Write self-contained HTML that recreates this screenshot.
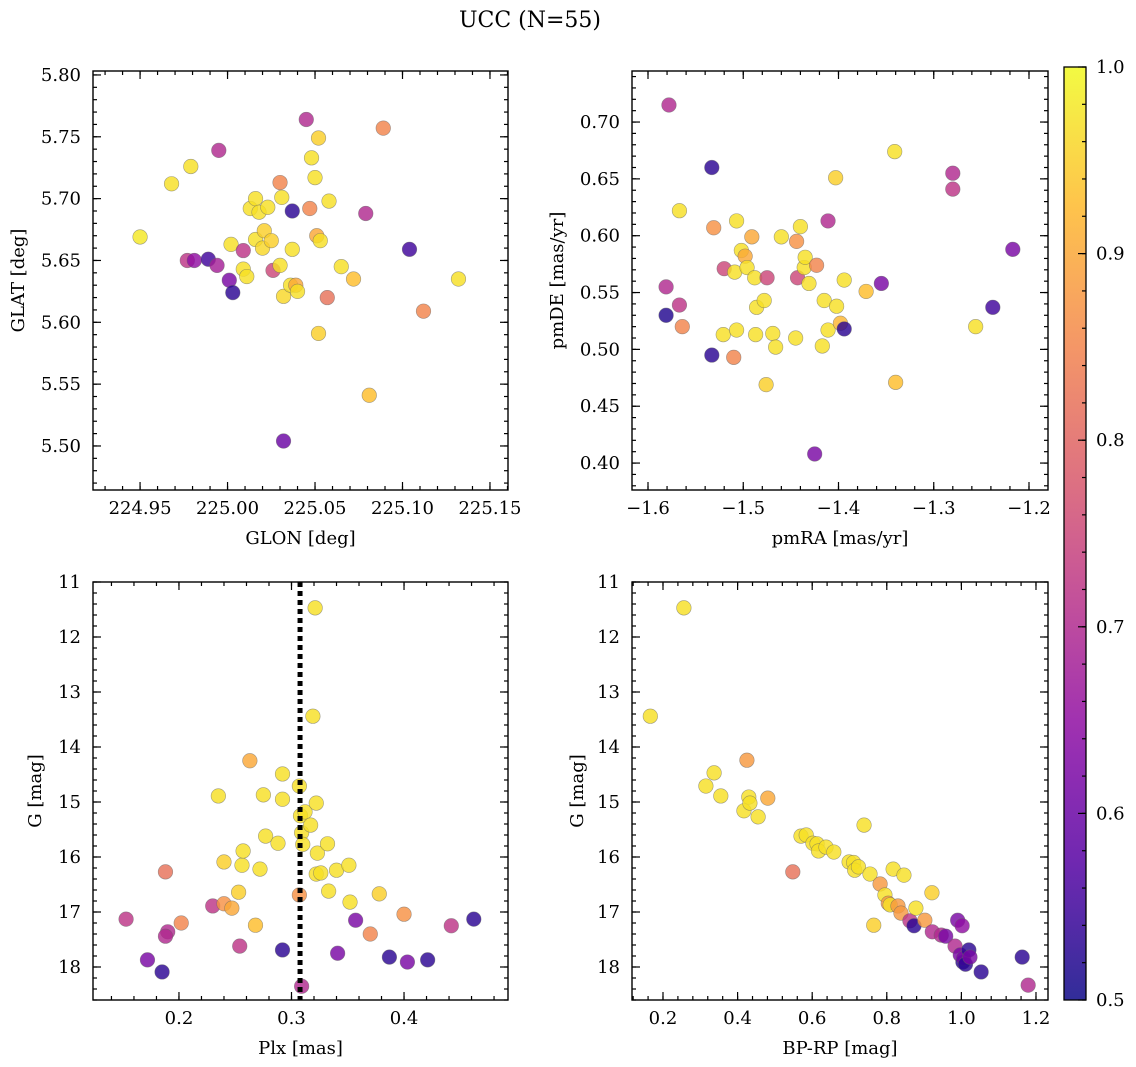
<!DOCTYPE html>
<html><head><meta charset="utf-8"><style>
body{margin:0;background:#fff;}
svg{display:block;font-family:"DejaVu Serif","Liberation Serif",serif;}
</style></head><body>
<svg id="fig" width="1136" height="1067" viewBox="0 0 1136 1067">
<text x="530" y="27" text-anchor="middle" font-size="22">UCC (N=55)</text>
</svg>
<script>
// ---- data ----
const glonVals=[224.950,224.968,224.979,224.995,224.977,224.981,224.989,224.994,225.001,225.003,225.002,225.009,225.009,225.011,225.013,225.016,225.016,225.018,225.020,225.021,225.023,225.025,225.026,225.030,225.030,225.031,225.032,225.032,225.037,225.036,225.037,225.039,225.040,225.045,225.047,225.048,225.050,225.051,225.052,225.052,225.053,225.058,225.057,225.065,225.072,225.079,225.081,225.089,225.104,225.112,225.132];
const glatVals=[5.669,5.712,5.726,5.739,5.650,5.650,5.651,5.646,5.634,5.624,5.663,5.658,5.643,5.637,5.692,5.700,5.667,5.689,5.660,5.674,5.693,5.666,5.642,5.646,5.713,5.701,5.621,5.504,5.690,5.630,5.659,5.630,5.625,5.764,5.692,5.733,5.717,5.670,5.749,5.591,5.666,5.698,5.620,5.645,5.635,5.688,5.541,5.757,5.659,5.609,5.635];
const probA=[.98,.97,.97,.7,.72,.65,.55,.68,.62,.53,.97,.72,.97,.97,.97,.97,.97,.97,.96,.95,.97,.95,.75,.97,.85,.97,.96,.6,.53,.97,.97,.9,.97,.7,.85,.97,.97,.9,.95,.95,.97,.97,.82,.97,.93,.7,.93,.85,.55,.85,.97];

const pmraVals=[-1.578,-1.581,-1.581,-1.567,-1.567,-1.564,-1.533,-1.533,-1.531,-1.520,-1.521,-1.507,-1.507,-1.509,-1.502,-1.498,-1.496,-1.510,-1.491,-1.488,-1.486,-1.478,-1.476,-1.475,-1.487,-1.469,-1.466,-1.460,-1.445,-1.444,-1.443,-1.440,-1.436,-1.435,-1.431,-1.425,-1.423,-1.417,-1.415,-1.411,-1.411,-1.403,-1.402,-1.398,-1.394,-1.394,-1.371,-1.355,-1.341,-1.340,-1.280,-1.280,-1.256,-1.238,-1.217];
const pmdeVals=[0.715,0.530,0.555,0.622,0.539,0.520,0.660,0.495,0.607,0.571,0.513,0.613,0.517,0.568,0.587,0.582,0.572,0.493,0.599,0.563,0.537,0.543,0.469,0.563,0.513,0.514,0.502,0.599,0.510,0.595,0.563,0.608,0.572,0.581,0.558,0.408,0.574,0.503,0.543,0.613,0.517,0.651,0.538,0.523,0.518,0.561,0.551,0.558,0.674,0.471,0.655,0.641,0.520,0.537,0.588];
const probB=[.7,.52,.7,.97,.72,.85,.53,.53,.87,.75,.97,.97,.97,.97,.97,.9,.97,.85,.9,.97,.97,.97,.95,.75,.97,.97,.97,.97,.97,.87,.75,.97,.97,.97,.97,.62,.85,.97,.97,.7,.97,.95,.97,.92,.53,.97,.93,.62,.97,.93,.7,.72,.97,.55,.62];

const plxVals=[0.153,0.172,0.185,0.188,0.190,0.188,0.202,0.230,0.235,0.240,0.240,0.247,0.253,0.256,0.254,0.257,0.263,0.268,0.272,0.275,0.277,0.288,0.292,0.292,0.292,0.307,0.307,0.308,0.309,0.309,0.310,0.312,0.317,0.319,0.321,0.322,0.323,0.322,0.326,0.332,0.333,0.341,0.340,0.351,0.352,0.357,0.370,0.378,0.387,0.400,0.403,0.421,0.442,0.462];
const gPlxVals=[17.13,17.87,18.09,16.27,17.36,17.44,17.20,16.89,14.89,16.09,16.85,16.93,16.64,16.15,17.62,15.89,14.25,17.24,16.22,14.87,15.62,15.75,14.95,14.49,17.69,16.69,14.71,15.25,15.56,18.35,15.77,15.18,15.42,13.44,11.47,15.02,15.93,16.31,16.29,15.76,16.62,17.75,16.24,16.15,16.82,17.15,17.40,16.67,17.82,17.04,17.91,17.87,17.25,17.13];
const probC=[.72,.62,.53,.82,.7,.7,.85,.72,.97,.95,.87,.9,.95,.97,.72,.97,.9,.93,.97,.97,.97,.97,.97,.97,.53,.87,.97,.97,.97,.7,.97,.97,.97,.97,.97,.97,.97,.97,.97,.97,.97,.62,.97,.97,.97,.62,.85,.95,.53,.87,.62,.53,.72,.53];
const plxMean=[0.3076];

const bprpVals=[0.166,0.256,0.315,0.337,0.355,0.417,0.425,0.430,0.433,0.455,0.481,0.548,0.570,0.584,0.602,0.613,0.617,0.637,0.658,0.699,0.711,0.714,0.724,0.739,0.755,0.765,0.782,0.795,0.804,0.809,0.817,0.830,0.838,0.846,0.862,0.873,0.878,0.902,0.921,0.922,0.946,0.958,0.983,0.990,1.002,0.997,1.004,1.006,1.011,1.020,1.023,1.053,1.163,1.179];
const gCmdVals=[13.44,11.47,14.71,14.47,14.89,15.16,14.24,14.91,15.02,15.27,14.93,16.27,15.62,15.60,15.75,15.76,15.89,15.82,15.91,16.09,16.10,16.24,16.18,15.42,16.31,17.24,16.49,16.69,16.84,16.87,16.22,16.89,17.02,16.33,17.16,17.25,16.93,17.15,16.65,17.36,17.42,17.44,17.62,17.15,17.25,17.78,17.91,17.84,17.95,17.69,17.82,18.09,17.82,18.33];
const probD=[.97,.97,.97,.97,.97,.97,.88,.97,.97,.97,.9,.82,.97,.97,.97,.97,.97,.97,.97,.97,.97,.97,.97,.97,.97,.95,.88,.97,.88,.97,.97,.88,.88,.97,.72,.53,.97,.88,.95,.7,.7,.62,.7,.62,.65,.62,.53,.62,.53,.53,.62,.53,.53,.7];

const cbTicks=[0.5,0.6,0.7,0.8,0.9,1.0];

// ---- helpers ----
const NS="http://www.w3.org/2000/svg";
const svg=document.getElementById('fig');
function mk(tag,attrs,parent){const e=document.createElementNS(NS,tag);for(const k in attrs)e.setAttribute(k,attrs[k]);(parent||svg).appendChild(e);return e;}
const stops=[[13,8,135],[84,2,163],[139,10,165],[185,50,137],[219,92,104],[244,136,73],[254,188,43],[240,249,33]];
function plasma(t){t=Math.max(0,Math.min(1,t));const s=t*(stops.length-1);const i=Math.min(stops.length-2,Math.floor(s));const f=s-i;const a=stops[i],b=stops[i+1];return `rgb(${Math.round(a[0]+(b[0]-a[0])*f)},${Math.round(a[1]+(b[1]-a[1])*f)},${Math.round(a[2]+(b[2]-a[2])*f)})`;}
function pcol(p){return plasma((p-0.5)/0.5);}
function fmt(v,d){let s=v.toFixed(d);if(v<-1e-9)s='\u2212'+s.slice(1);return s;}
const FS=18;

function panel(name,box,xlim,ylim,xmaj,xmin,ymaj,ymin,xd,yd,xlabel,ylabel,yinv,ytx){
  const [L,T,R,B]=box;
  const g=mk('g',{});
  
  
  const sx=v=>L+(v-xlim[0])/(xlim[1]-xlim[0])*(R-L);
  const sy=yinv?(v=>T+(v-ylim[0])/(ylim[1]-ylim[0])*(B-T)):(v=>B-(v-ylim[0])/(ylim[1]-ylim[0])*(B-T));
  const ticks=(lo,hi,st)=>{const a=[];for(let k=Math.ceil(lo/st-1e-6);k*st<=hi+1e-9;k++)a.push(k*st);return a;};
  const tg=mk('g',{stroke:'#000','stroke-width':1.2},g);
  
  
  ticks(xlim[0],xlim[1],xmin).forEach(v=>{const x=sx(v);mk('line',{x1:x,x2:x,y1:B,y2:B-4},tg);mk('line',{x1:x,x2:x,y1:T,y2:T+4},tg);});
  ticks(ylim[0],ylim[1],ymin).forEach(v=>{const y=sy(v);mk('line',{x1:L,x2:L+4,y1:y,y2:y},tg);mk('line',{x1:R,x2:R-4,y1:y,y2:y},tg);});
  ticks(xlim[0],xlim[1],xmaj).forEach(v=>{const x=sx(v);mk('line',{x1:x,x2:x,y1:B,y2:B-8},tg);mk('line',{x1:x,x2:x,y1:T,y2:T+8},tg);
    const t=mk('text',{x:x,y:B+24,'text-anchor':'middle','font-size':FS,stroke:'none'},g);t.textContent=fmt(v,xd);
    
    });
  ticks(ylim[0],ylim[1],ymaj).forEach(v=>{const y=sy(v);mk('line',{x1:L,x2:L+8,y1:y,y2:y},tg);mk('line',{x1:R,x2:R-8,y1:y,y2:y},tg);
    const t=mk('text',{x:L-12,y:y+6,'text-anchor':'end','font-size':FS},g);t.textContent=fmt(v,yd);
    
    });
  const xl=mk('text',{x:(L+R)/2,y:B+54,'text-anchor':'middle','font-size':FS},g);xl.textContent=xlabel;
  
  
  const yl=mk('text',{transform:`translate(${ytx},${(T+B)/2}) rotate(-90)`,'text-anchor':'middle','font-size':FS},g);yl.textContent=ylabel;
  
  
  const clip='clip-'+name;
  const cp=mk('clipPath',{id:clip},g);mk('rect',{x:L,y:T,width:R-L,height:B-T},cp);
  const pg=mk('g',{'clip-path':`url(#${clip})`},g);
  return {g,pg,sx,sy,frame:()=>{const f=mk('rect',{x:L,y:T,width:R-L,height:B-T,fill:'none',stroke:'#000','stroke-width':1.4},g);
    
    }};
}
function scatter(P,xs,ys,ps){
  xs.forEach((v,i)=>{const c=mk('circle',{cx:P.sx(v),cy:P.sy(ys[i]),r:7.3,fill:pcol(ps[i]),'fill-opacity':0.82,stroke:'#666','stroke-opacity':0.6,'stroke-width':0.6},P.pg);
    
    });
}

const A=panel('glon-glat-panel',[93,71,508,490],[224.9231,225.1603],[5.4644,5.8032],0.05,0.01,0.05,0.01,2,2,'GLON [deg]','GLAT [deg]',false,24);
scatter(A,glonVals,glatVals,probA);A.frame();
const Bp=panel('pm-panel',[632,71,1048,490],[-1.6168,-1.18005],[0.3763,0.7449],0.1,0.02,0.05,0.01,1,2,'pmRA [mas/yr]','pmDE [mas/yr]',false,563);
scatter(Bp,pmraVals,pmdeVals,probB);Bp.frame();
const C=panel('plx-g-panel',[93,582,508,1000],[0.1236,0.4924],[11,18.6],0.1,0.02,1,0.2,1,0,'Plx [mas]','G [mag]',true,41);
scatter(C,plxVals,gPlxVals,probC);
plxMean.forEach(v=>{const l=mk('line',{x1:C.sx(v),x2:C.sx(v),y1:582,y2:1000,stroke:'#000','stroke-width':5,'stroke-dasharray':'5,4'},C.pg);
  
  });
C.frame();
const D=panel('cmd-panel',[632,582,1048,1000],[0.1169,1.2322],[11,18.6],0.2,0.04,1,0.2,1,0,'BP-RP [mag]','G [mag]',true,583);
scatter(D,bprpVals,gCmdVals,probD);D.frame();

// colorbar
const cb=mk('g',{});


const defs=mk('defs',{},cb);
const lg=mk('linearGradient',{id:'cbg',x1:0,y1:1,x2:0,y2:0},defs);
for(let i=0;i<=20;i++)mk('stop',{offset:i/20,'stop-color':plasma(i/20),'stop-opacity':0.85},lg);
const cbT=67,cbB=1000,cbL=1064,cbR=1086;
mk('rect',{x:cbL,y:cbT,width:cbR-cbL,height:cbB-cbT,fill:'url(#cbg)',stroke:'#000','stroke-width':1.3},cb);
const cy=v=>cbB-(v-0.5)/0.5*(cbB-cbT);
for(let k=25;k<=50;k++){const v=k*0.02;const y=cy(v);mk('line',{x1:cbR,x2:cbR-4,y1:y,y2:y,stroke:'#000','stroke-width':1.2},cb);}
cbTicks.forEach(v=>{const y=cy(v);mk('line',{x1:cbR,x2:cbR-8,y1:y,y2:y,stroke:'#000','stroke-width':1.2},cb);
  const t=mk('text',{x:1096,y:y+6,'font-size':FS},cb);t.textContent=v.toFixed(1);
  
  });
</script>
</body></html>
